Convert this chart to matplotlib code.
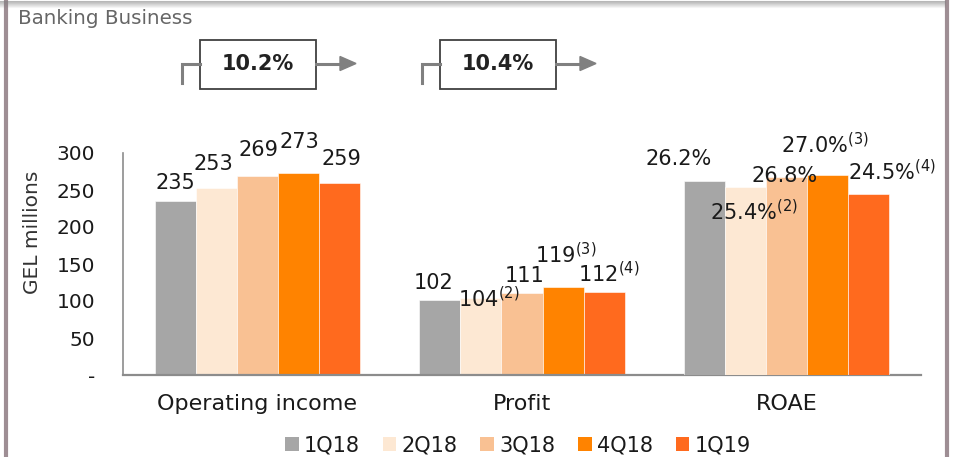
import matplotlib
matplotlib.use('Agg')
import matplotlib.pyplot as plt
from matplotlib.patches import Rectangle, Patch, Polygon
from matplotlib.lines import Line2D

plt.rcParams['font.family'] = ['DejaVu Sans']
plt.rcParams['mathtext.fontset'] = 'custom'
plt.rcParams['mathtext.rm'] = 'DejaVu Sans'

# ---------------- data ----------------
categories = ['Operating income', 'Profit', 'ROAE']
quarters = ['1Q18', '2Q18', '3Q18', '4Q18', '1Q19']
operating_income = [235, 253, 269, 273, 259]
profit = [102, 104, 111, 119, 112]
roae = [26.2, 25.4, 26.8, 27.0, 24.5]
profit_notes = ['', '(2)', '', '(3)', '(4)']
roae_notes = ['', '(2)', '', '(3)', '(4)']
yticks = [0, 50, 100, 150, 200, 250, 300]
ytick_labels = ['-', '50', '100', '150', '200', '250', '300']
growth_labels = ['10.2%', '10.4%']
title = 'Banking Business'
ylabel = 'GEL millions'

# ---------------- style ----------------
colors = ['#A6A6A6', '#FDE8D3', '#F9C193', '#FF8300', '#FF6A1E']
W, H = 955, 457
bar_w = 0.155
# label offsets in pixels (dx, dy of text centre above bar top)
oi_off = [(0, 20), (-3, 25), (1, 27), (1, 32), (2, 26)]
pr_off = [(-6, 18), (8, -2), (3, 18), (3, 31), (5, 17)]
ro_off = [(-26, 24), (8, -26), (-2, 2), (-3, 30), (23, 21)]
cap_half = 7.5
txt_color = '#1A1A1A'

fig = plt.figure(figsize=(W / 100, H / 100), dpi=100)

def fx(px):
    return px / W

def fy(py):
    return 1 - py / H

ax = fig.add_axes([fx(123), fy(375), fx(921) - fx(123), fy(153) - fy(375)])
ax2 = ax.twinx()

for i, q in enumerate(quarters):
    off = (i - 2) * bar_w
    ax.bar([0 + off, 1 + off], [operating_income[i], profit[i]], bar_w,
           color=colors[i], edgecolor='white', linewidth=0.4, zorder=2)
    ax2.bar([2 + off], [roae[i]], bar_w, color=colors[i],
            edgecolor='white', linewidth=0.4, zorder=2)

def sup_text(main, note):
    if note:
        return main + r'$^{\mathregular{' + note + '}}$'
    return main

lab_fs = 15
for i in range(5):
    off = (i - 2) * bar_w
    dx, dy = oi_off[i]
    ax.annotate(str(operating_income[i]), xy=(0 + off, operating_income[i]),
                xytext=(dx, dy - cap_half), textcoords='offset pixels',
                ha='center', va='baseline', fontsize=lab_fs, color=txt_color, zorder=5)
    dx, dy = pr_off[i]
    ax.annotate(sup_text(str(profit[i]), profit_notes[i]), xy=(1 + off, profit[i]),
                xytext=(dx, dy - cap_half), textcoords='offset pixels',
                ha='center', va='baseline', fontsize=lab_fs, color=txt_color, zorder=5)
    dx, dy = ro_off[i]
    ax2.annotate(sup_text(f'{roae[i]:.1f}%', roae_notes[i]), xy=(2 + off, roae[i]),
                 xytext=(dx, dy - cap_half), textcoords='offset pixels',
                 ha='center', va='baseline', fontsize=lab_fs, color=txt_color, zorder=5)

ax.set_xlim(-0.508, 2.508)
ax.set_ylim(0, 300)
ax2.set_ylim(0, 30)
ax.set_yticks(yticks)
ax.set_yticklabels(ytick_labels, fontsize=14.5, color=txt_color)
ax.set_xticks([0, 1, 2])
ax.set_xticklabels(categories, fontsize=16, color=txt_color)
ax.tick_params(axis='y', length=0, pad=20)
ax.tick_params(axis='x', length=0, pad=14)
ax2.set_yticks([])
for a in (ax, ax2):
    for s in ['top', 'right', 'left', 'bottom']:
        a.spines[s].set_visible(False)
ax.spines['left'].set_visible(True)
ax.spines['bottom'].set_visible(True)
ax.spines['left'].set_color('#8C8C8C')
ax.spines['bottom'].set_color('#8C8C8C')
ax.spines['left'].set_linewidth(1.2)
ax.spines['bottom'].set_linewidth(1.6)
ax.patch.set_alpha(0)

fig.text(fx(33), fy(232), ylabel, rotation=90, ha='center', va='center',
         fontsize=14.5, color='#333333')

# legend
handles = [Patch(facecolor=c, edgecolor='none') for c in colors]
fig.legend(handles, quarters, loc='center', bbox_to_anchor=(fx(518), fy(445)),
           ncol=5, frameon=False, fontsize=15, handlelength=0.65, handleheight=0.65,
           handletextpad=0.25, columnspacing=1.1, labelcolor=txt_color)

# title
fig.text(fx(18), fy(18), title, ha='left', va='center', fontsize=14.3, color='#666666')

# growth boxes with arrows
for k, lab in enumerate(growth_labels):
    x0 = [200, 440][k]
    bw, y0, y1 = 116, 40, 89
    ym = 63.5
    arrow_c = '#808080'
    fig.add_artist(Line2D([fx(x0 - 18), fx(x0 - 18), fx(x0)], [fy(83), fy(ym), fy(ym)],
                          transform=fig.transFigure, color=arrow_c, lw=2.2,
                          solid_joinstyle='miter'))
    fig.add_artist(Line2D([fx(x0 + bw), fx(x0 + bw + 26)], [fy(ym), fy(ym)],
                          transform=fig.transFigure, color=arrow_c, lw=2.2))
    fig.add_artist(Polygon([[fx(x0 + bw + 24), fy(ym - 7)], [fx(x0 + bw + 40), fy(ym)],
                            [fx(x0 + bw + 24), fy(ym + 7)]], closed=True,
                           transform=fig.transFigure, color=arrow_c))
    fig.add_artist(Rectangle((fx(x0), fy(y1)), fx(bw), fy(y0) - fy(y1),
                             transform=fig.transFigure, facecolor='white',
                             edgecolor='#404040', lw=1.3))
    fig.text(fx(x0 + bw / 2), fy(ym + 1), lab, ha='center', va='center',
             fontsize=15, fontweight='bold', color='#222222')

# frame
frame_c = '#9E8E94'
fig.add_artist(Line2D([fx(6), fx(6)], [0, 1], transform=fig.transFigure, color=frame_c, lw=3))
fig.add_artist(Line2D([fx(947), fx(947)], [0, 1], transform=fig.transFigure, color=frame_c, lw=3))
for j in range(7):
    fig.add_artist(Line2D([0, fx(945)], [fy(j + 0.5), fy(j + 0.5)], transform=fig.transFigure,
                          color='#808080', lw=0.8, alpha=0.55 * (1 - j / 7)))

fig.savefig('out.png', dpi=100)
